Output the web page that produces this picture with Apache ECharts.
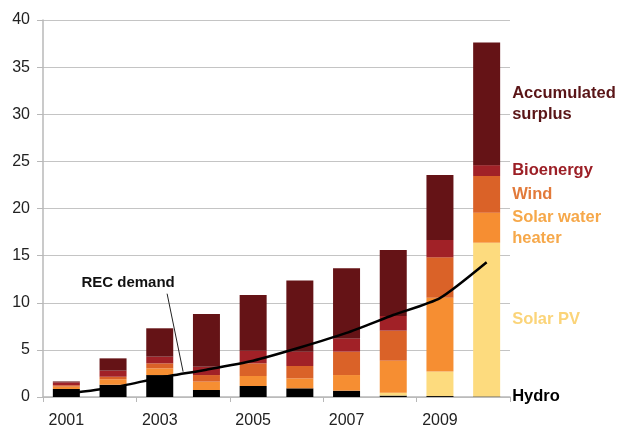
<!DOCTYPE html>
<html><head><meta charset="utf-8">
<script src="https://cdn.jsdelivr.net/npm/echarts@6/dist/echarts.min.js"></script>
<style>html,body{margin:0;padding:0;background:#fff}#c{width:621px;height:433px}</style>
</head><body><div id="c"></div>
<script>
const years = ['2001','2002','2003','2004','2005','2006','2007','2008','2009','2010'];
const hydro   = [0.85, 1.3, 2.33, 0.74, 1.17, 0.92, 0.67, 0.15, 0.1, 0.05];
const solarPV = [0, 0, 0, 0, 0, 0, 0, 0.3, 2.6, 16.32];
const solarWH = [0.25, 0.58, 0.71, 0.89, 1.06, 1.06, 1.66, 3.4, 7.84, 3.19];
const wind    = [0.15, 0.27, 0.53, 0.7, 1.34, 1.31, 2.48, 3.19, 4.28, 3.89];
const bio     = [0.3, 0.65, 0.71, 0.87, 1.35, 1.52, 1.41, 1.56, 1.84, 1.15];
const surplus = [0.1, 1.3, 3.01, 5.6, 5.9, 7.54, 7.43, 7.0, 6.89, 13.0];
const recDemand = [0.35, 1.0, 2.05, 2.9, 3.85, 5.25, 6.8, 8.7, 10.5, 14.3];
const yTicks = [0, 5, 10, 15, 20, 25, 30, 35, 40];

const stacks = [
  {name:'Hydro', data:hydro, color:'#000000', label:'Hydro', tcolor:'#000000'},
  {name:'Solar PV', data:solarPV, color:'#fddb7e', label:'Solar PV', tcolor:'#fbd479'},
  {name:'Solar water heater', data:solarWH, color:'#f68e32', label:'Solar water\nheater', tcolor:'#f6a84a'},
  {name:'Wind', data:wind, color:'#da6228', label:'Wind', tcolor:'#e27a3a'},
  {name:'Bioenergy', data:bio, color:'#a12127', label:'Bioenergy', tcolor:'#9c1f26'},
  {name:'Accumulated surplus', data:surplus, color:'#651316', label:'Accumulated\nsurplus', tcolor:'#5a1517'}
];
const font = 'Liberation Sans, Arial, sans-serif';
const last = years.length - 1;

const series = stacks.map(s => ({
  name: s.name, type: 'bar', stack: 'total', barWidth: 27,
  itemStyle: {color: s.color},
  data: s.data.map((v, i) => i === last ? {
    value: v,
    label: {show: true, position: 'right', distance: 12, formatter: s.label,
      color: s.tcolor, fontWeight: 'bold', fontSize: 16.5, fontFamily: font, lineHeight: 21, align: 'left'}
  } : v),
  z: 2
}));
series.push({
  name: 'REC demand', type: 'line', data: recDemand, smooth: 0.2, symbol: 'none',
  lineStyle: {color: '#000', width: 2.5}, z: 5
});

const chart = echarts.init(document.getElementById('c'), null, {renderer: 'canvas'});
chart.setOption({
  animation: false,
  grid: {left: 43, right: 111, top: 20, bottom: 36, containLabel: false},
  xAxis: {
    type: 'category', data: years, boundaryGap: true,
    axisLine: {lineStyle: {color: '#b8b8b8', width: 1.5}},
    axisTick: {show: true, alignWithLabel: false, length: 5, lineStyle: {color: '#b8b8b8'}},
    axisLabel: {interval: 1, color: '#222', fontSize: 16, fontFamily: font, margin: 16}
  },
  yAxis: {
    type: 'value', min: yTicks[0], max: yTicks[yTicks.length-1], interval: 5,
    axisLine: {show: true, lineStyle: {color: '#b8b8b8', width: 1.5}},
    axisTick: {show: true, length: 6, lineStyle: {color: '#b8b8b8'}},
    splitLine: {lineStyle: {color: '#c4c4c4', width: 1.2}},
    axisLabel: {color: '#222', fontSize: 16, fontFamily: font, margin: 13}
  },
  series: series
});

// REC demand annotation anchored between 2003 and 2004 points
const p3 = chart.convertToPixel({xAxisIndex: 0, yAxisIndex: 0}, [2, recDemand[2]]);
const p4 = chart.convertToPixel({xAxisIndex: 0, yAxisIndex: 0}, [3, recDemand[3]]);
const t = 0.5;
const ax = p3[0] + (p4[0]-p3[0])*t, ay = p3[1] + (p4[1]-p3[1])*t;
chart.setOption({
  graphic: [
    {type: 'line', shape: {x1: ax - 16, y1: ay - 80, x2: ax, y2: ay - 2}, style: {stroke: '#222', lineWidth: 1}, z: 10},
    {type: 'text', x: ax - 55, y: ay - 91, style: {text: 'REC demand', fill: '#111', font: 'bold 15px ' + font, textAlign: 'center', textVerticalAlign: 'middle'}, z: 10}
  ]
});
</script></body></html>
